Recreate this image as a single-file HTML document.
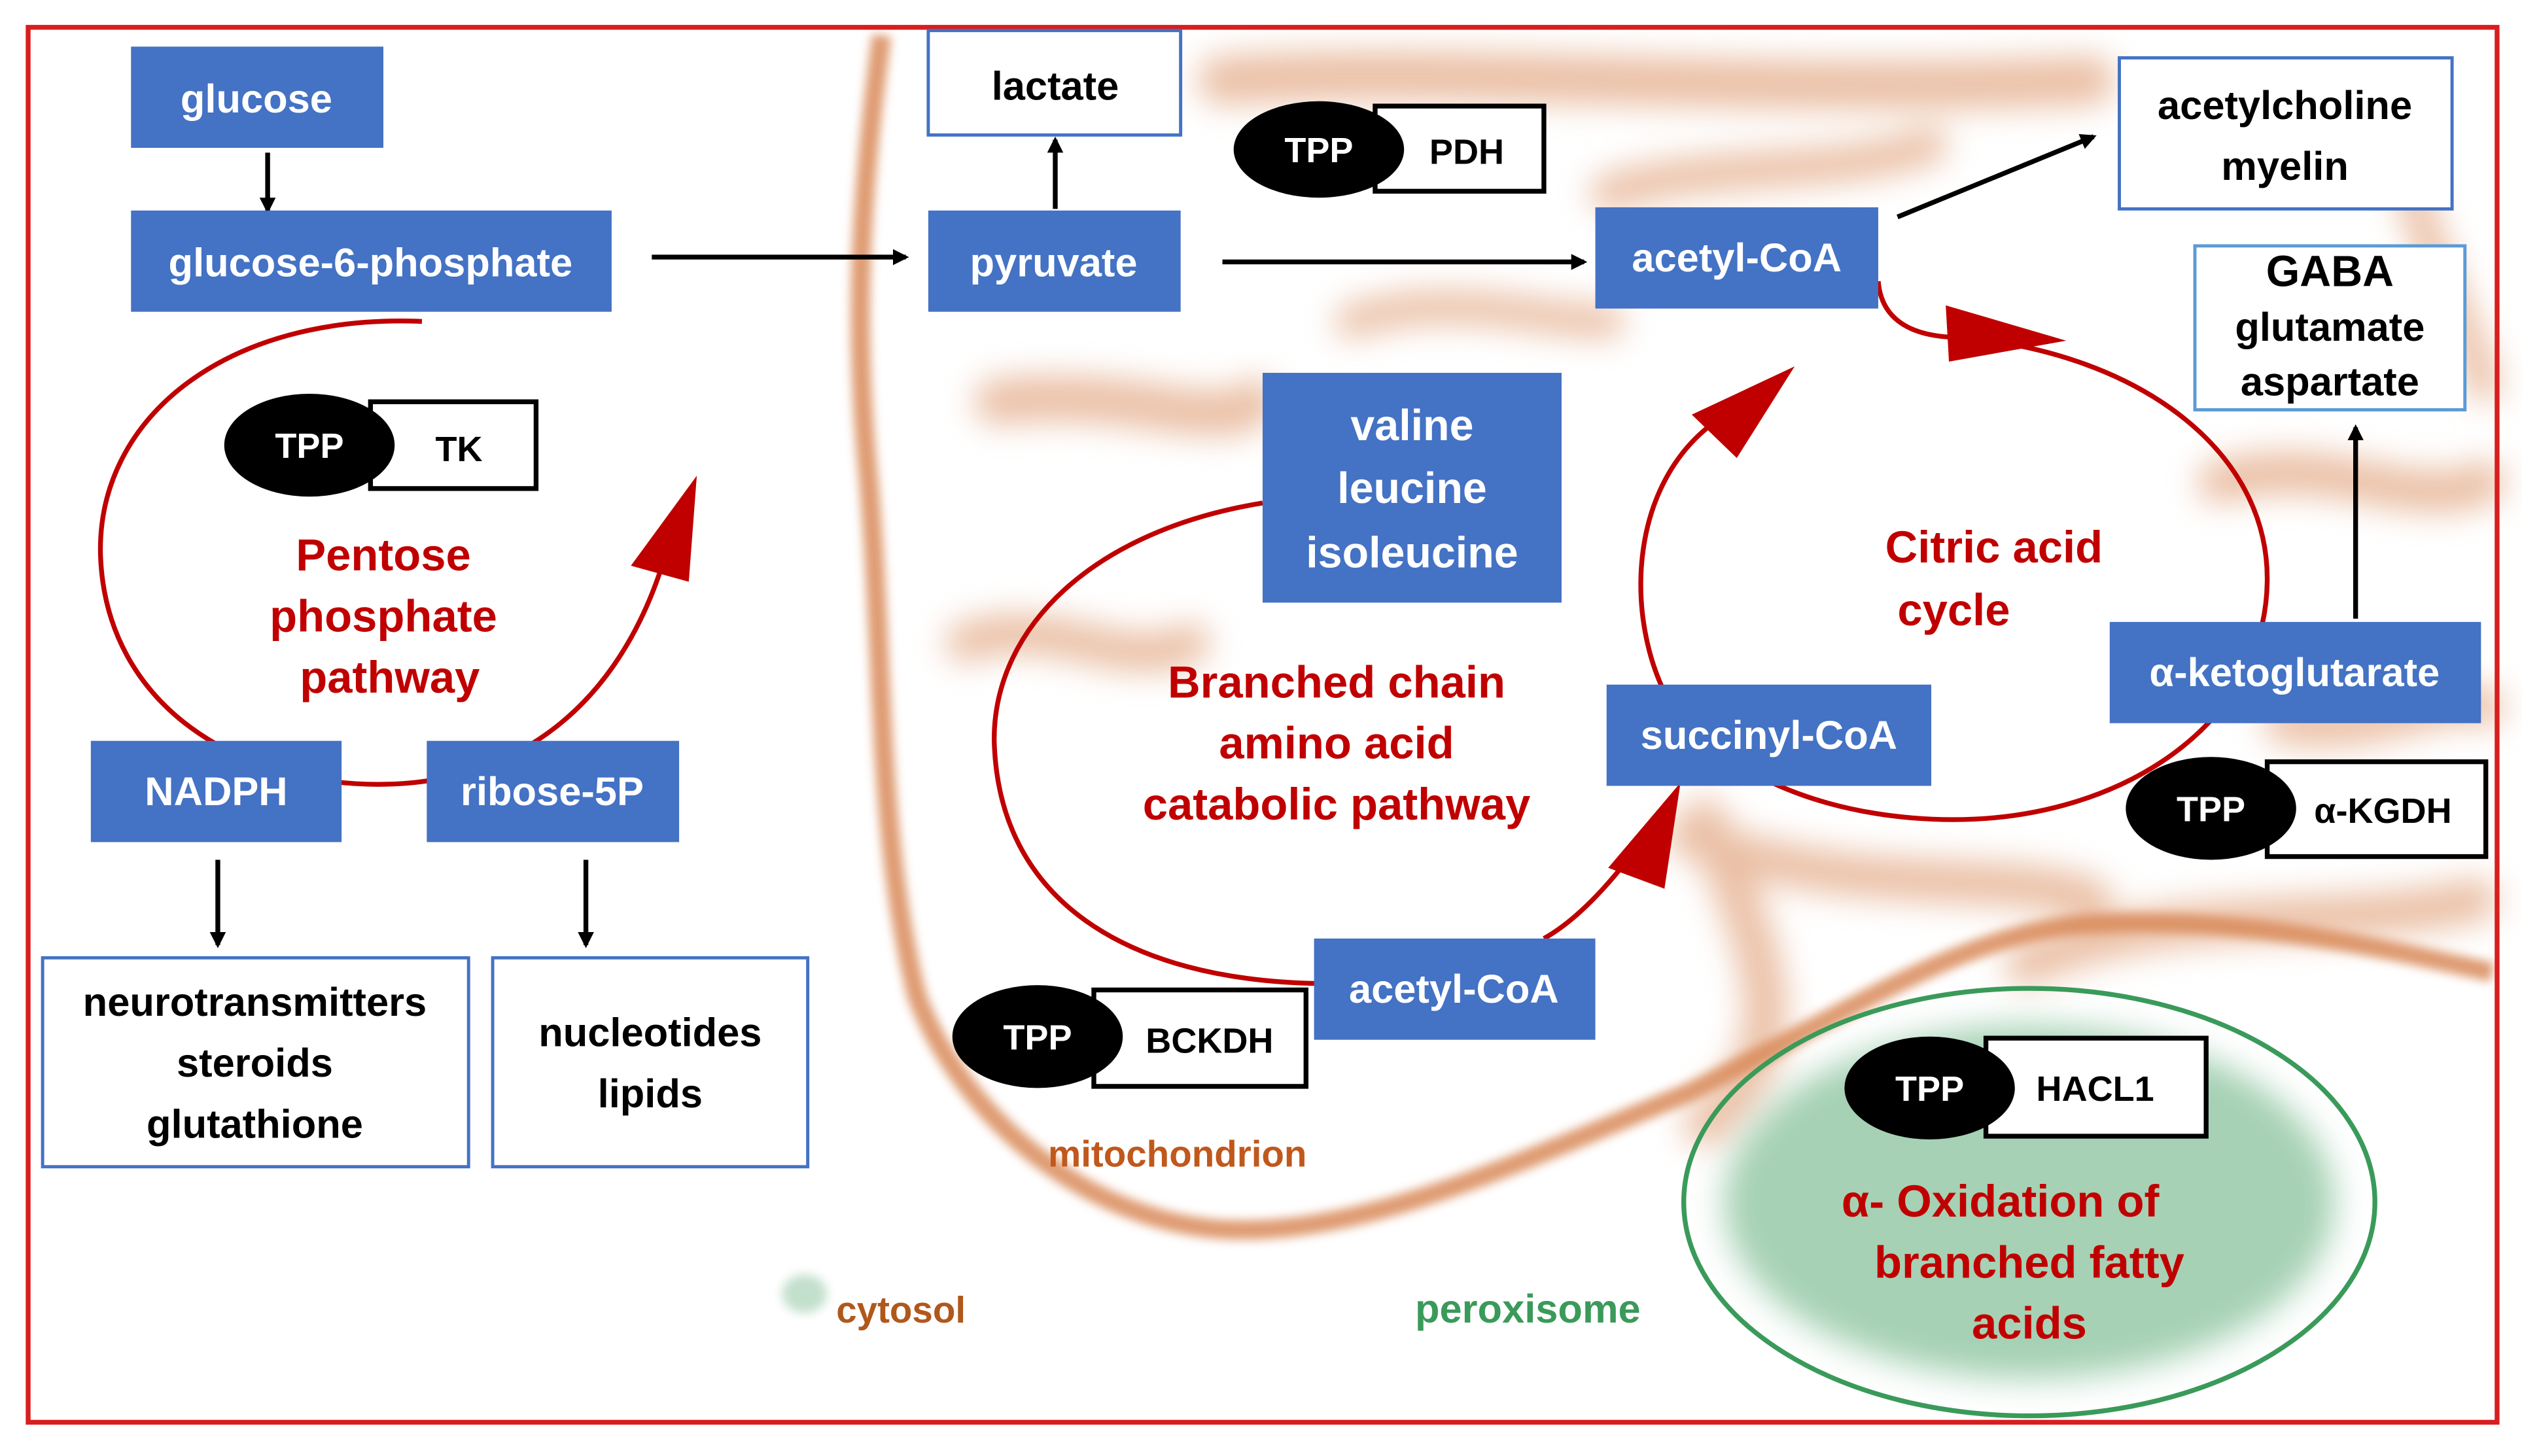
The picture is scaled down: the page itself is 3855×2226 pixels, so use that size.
<!DOCTYPE html>
<html><head><meta charset="utf-8"><style>
html,body{margin:0;padding:0;background:#fff}
svg{display:block}
text{font-family:"Liberation Sans",sans-serif;font-weight:bold}
</style></head><body>
<svg width="3855" height="2226" viewBox="0 0 1568 906" xmlns="http://www.w3.org/2000/svg">
<defs>
<filter id="b" x="-20%" y="-20%" width="140%" height="140%"><feGaussianBlur stdDeviation="3"/></filter>
<filter id="b2" x="-20%" y="-20%" width="140%" height="140%"><feGaussianBlur stdDeviation="10"/></filter>
<marker id="ah" markerWidth="10" markerHeight="10" refX="8" refY="5" orient="auto" markerUnits="userSpaceOnUse"><path d="M0,0 L10,5 L0,10 z" fill="#000"/></marker>
</defs>
<rect width="1568" height="906" fill="#fff"/>
<g opacity="0.55" filter="url(#b2)" fill="none" stroke="#d98a5a" stroke-linecap="round">
<path d="M760,50 C900,40 1100,60 1300,50" stroke-width="30"/>
<path d="M620,250 C700,240 760,270 780,250" stroke-width="28"/>
<path d="M600,400 C650,380 700,420 740,400" stroke-width="24"/>
<path d="M1000,120 C1060,100 1150,110 1200,90" stroke-width="22"/>
<path d="M1380,300 C1450,280 1500,320 1545,300" stroke-width="26"/>
<path d="M1420,450 C1480,460 1520,430 1545,440" stroke-width="24"/>
<path d="M1050,520 C1150,560 1250,540 1300,560" stroke-width="26"/>
<path d="M1060,510 C1100,600 1120,650 1060,700" stroke-width="26"/>
<path d="M1260,600 C1350,560 1450,580 1540,560" stroke-width="26"/>
<path d="M840,200 C900,180 960,200 1000,200" stroke-width="20"/>
<path d="M1500,120 C1520,180 1540,220 1545,240" stroke-width="20"/>
</g>
<path d="M548,22 C535,120 530,200 540,300 C550,420 545,520 570,620 C600,700 680,760 760,765 C850,770 950,720 1050,680 C1150,630 1220,580 1300,575 C1400,570 1480,590 1550,605" fill="none" stroke="#d98a5a" stroke-width="12" opacity="0.85" filter="url(#b)"/>
<ellipse cx="1262" cy="748" rx="190" ry="110" fill="#3a9a5a" opacity="0.45" filter="url(#b2)"/>
<ellipse cx="1262" cy="748" rx="215" ry="133" fill="none" stroke="#3a9a5a" stroke-width="3"/>
<ellipse cx="500" cy="805" rx="14" ry="12" fill="#3a9a5a" opacity="0.3" filter="url(#b)"/>
<rect x="17" y="17" width="1536" height="868" fill="none" stroke="#d81e1e" stroke-width="3"/>
<g fill="none" stroke="#c00000" stroke-width="3">
<path d="M262,200 C140,195 60,260 62,345 C65,440 150,490 240,488 C330,486 390,430 415,340"/>
<path d="M785,313 C680,330 618,390 618,460 C620,560 700,610 820,612"/>
<path d="M960,584 C985,570 1010,540 1030,510"/>
<path d="M1168,175 C1170,200 1190,210 1220,210 C1330,220 1410,280 1410,360 C1410,450 1320,510 1215,510 C1150,510 1080,490 1040,440 C1010,390 1010,300 1070,260"/>
</g>
<g fill="#c00000">
<path d="M433,296 L392,352 L428,362 z"/>
<path d="M1045,487 L1000,540 L1035,553 z"/>
<path d="M1116,228 L1052,258 L1080,285 z"/>
<path d="M1285,212 L1210,190 L1212,225 z"/>
</g>
<g stroke="#000" stroke-width="3" marker-end="url(#ah)">
<line x1="166" y1="95" x2="166" y2="131"/>
<line x1="405" y1="160" x2="563" y2="160"/>
<line x1="656" y1="130" x2="656" y2="87"/>
<line x1="760" y1="163" x2="985" y2="163"/>
<line x1="1180" y1="135" x2="1302" y2="85"/>
<line x1="1465" y1="385" x2="1465" y2="266"/>
<line x1="135" y1="535" x2="135" y2="588"/>
<line x1="364" y1="535" x2="364" y2="588"/>
</g>
<g fill="#4472c4">
<rect x="81" y="29" width="157" height="63"/>
<rect x="81" y="131" width="299" height="63"/>
<rect x="577" y="131" width="157" height="63"/>
<rect x="992" y="129" width="176" height="63"/>
<rect x="785" y="232" width="186" height="143"/>
<rect x="1312" y="387" width="231" height="63"/>
<rect x="999" y="426" width="202" height="63"/>
<rect x="817" y="584" width="175" height="63"/>
<rect x="56" y="461" width="156" height="63"/>
<rect x="265" y="461" width="157" height="63"/>
</g>
<g fill="#fff" font-size="25" text-anchor="middle">
<text x="159" y="70">glucose</text>
<text x="230" y="172">glucose-6-phosphate</text>
<text x="655" y="172">pyruvate</text>
<text x="1080" y="169">acetyl-CoA</text>
<text x="878" y="274" font-size="27">valine</text>
<text x="878" y="313" font-size="27">leucine</text>
<text x="878" y="353" font-size="27">isoleucine</text>
<text x="1427" y="427">α-ketoglutarate</text>
<text x="1100" y="466">succinyl-CoA</text>
<text x="904" y="624">acetyl-CoA</text>
<text x="134" y="501">NADPH</text>
<text x="343" y="501">ribose-5P</text>
</g>
<g fill="#fff" stroke="#4472c4" stroke-width="2">
<rect x="577" y="19" width="157" height="65"/>
<rect x="1318" y="36" width="207" height="94"/>
<rect x="1365" y="153" width="168" height="102" stroke="#5b9bd5"/>
<rect x="26" y="596" width="265" height="130"/>
<rect x="306" y="596" width="196" height="130"/>
</g>
<g fill="#000" font-size="25" text-anchor="middle">
<text x="656" y="62">lactate</text>
<text x="1421" y="74">acetylcholine</text>
<text x="1421" y="112">myelin</text>
<text x="1449" y="178" font-size="27">GABA</text>
<text x="1449" y="212">glutamate</text>
<text x="1449" y="246">aspartate</text>
<text x="158" y="632">neurotransmitters</text>
<text x="158" y="670">steroids</text>
<text x="158" y="708">glutathione</text>
<text x="404" y="651">nucleotides</text>
<text x="404" y="689">lipids</text>
</g>
<g stroke="#000" stroke-width="3" fill="#fff">
<rect x="230" y="250" width="103" height="54"/>
<rect x="855" y="66" width="105" height="53"/>
<rect x="1410" y="474" width="136" height="59"/>
<rect x="680" y="616" width="132" height="60"/>
<rect x="1235" y="646" width="137" height="61"/>
</g>
<g fill="#000">
<ellipse cx="192" cy="277" rx="53" ry="32"/>
<ellipse cx="820" cy="93" rx="53" ry="30"/>
<ellipse cx="1375" cy="503" rx="53" ry="32"/>
<ellipse cx="645" cy="645" rx="53" ry="32"/>
<ellipse cx="1200" cy="677" rx="53" ry="32"/>
</g>
<g fill="#fff" font-size="22" text-anchor="middle">
<text x="192" y="285">TPP</text><text x="820" y="101">TPP</text><text x="1375" y="511">TPP</text><text x="645" y="653">TPP</text><text x="1200" y="685">TPP</text>
</g>
<g fill="#000" font-size="22" text-anchor="middle">
<text x="285" y="287">TK</text><text x="912" y="102">PDH</text><text x="1482" y="512">α-KGDH</text><text x="752" y="655">BCKDH</text><text x="1303" y="685">HACL1</text>
</g>
<g fill="#c00000" font-size="28" text-anchor="middle">
<text x="238" y="355">Pentose</text>
<text x="238" y="393">phosphate</text>
<text x="242" y="431">pathway</text>
<text x="831" y="434">Branched chain</text>
<text x="831" y="472">amino acid</text>
<text x="831" y="510">catabolic pathway</text>
<text x="1240" y="350">Citric acid</text>
<text x="1215" y="389">cycle</text>
<text x="1244" y="757">α- Oxidation of</text>
<text x="1262" y="795">branched fatty</text>
<text x="1262" y="833">acids</text>
</g>
<text x="732" y="726" fill="#c0581c" font-size="23" text-anchor="middle">mitochondrion</text>
<text x="560" y="823" fill="#b0581c" font-size="23" text-anchor="middle">cytosol</text>
<text x="950" y="823" fill="#3a9a5a" font-size="25" text-anchor="middle">peroxisome</text>
</svg>
</body></html>
